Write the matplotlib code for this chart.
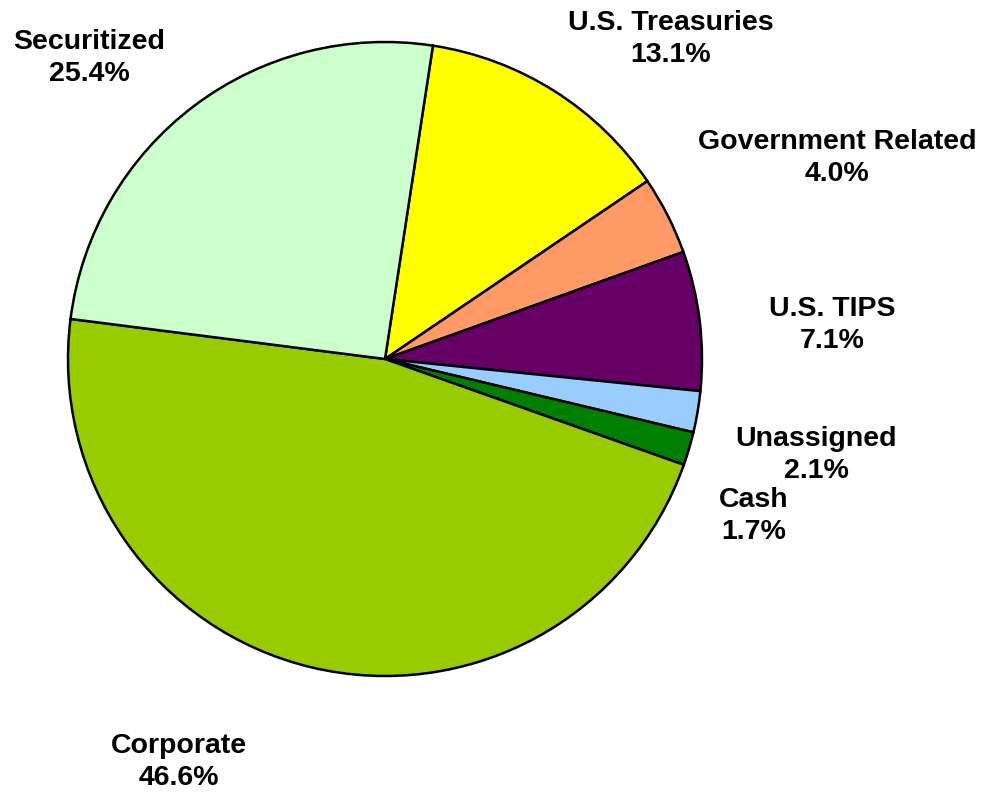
import matplotlib
matplotlib.use("Agg")
import matplotlib.pyplot as plt

# sector breakdown, clockwise from the top
sectors = ["U.S. Treasuries", "Government Related", "U.S. TIPS", "Unassigned",
           "Cash", "Corporate", "Securitized"]
weights = [13.1, 4.0, 7.1, 2.1, 1.7, 46.6, 25.4]
colors = ["#FFFF00", "#FF9966", "#660066", "#99CCFF", "#008000", "#99CC00", "#CCFFCC"]

# label centres in pixels (x from left, y from top)
label_pos = [(671, 39), (837, 158), (832, 325), (816, 455),
             (754, 516), (179, 762), (89, 58)]

W, H = 986, 792
fig = plt.figure(figsize=(W / 100, H / 100), dpi=100)
ax = fig.add_axes([0, 0, 1, 1])

ax.pie(weights, colors=colors, startangle=81.3, counterclock=False,
       center=(385, H - 359), radius=317,
       wedgeprops=dict(edgecolor="black", linewidth=1.8))
ax.set_xlim(0, W)
ax.set_ylim(0, H)
ax.set_aspect("equal")
ax.axis("off")

for name, w, (x, y) in zip(sectors, weights, label_pos):
    ax.text(x, H - y, "%s\n%.1f%%" % (name, w), ha="center", va="center",
            multialignment="center", fontsize=20.5, fontweight="bold",
            family="Liberation Sans", linespacing=1.3)

fig.savefig("out.png", dpi=100)
